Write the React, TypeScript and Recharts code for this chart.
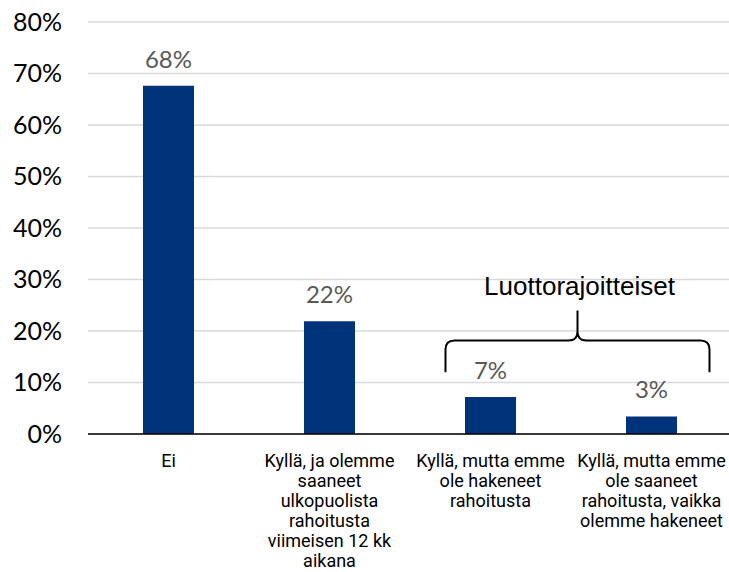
import React from "react";
import {
  BarChart,
  Bar,
  XAxis,
  YAxis,
  CartesianGrid,
  LabelList,
  ReferenceArea,
} from "recharts";

const categories = [
  "Ei",
  "Kyllä, ja olemme\nsaaneet\nulkopuolista\nrahoitusta\nviimeisen 12 kk\naikana",
  "Kyllä, mutta emme\nole hakeneet\nrahoitusta",
  "Kyllä, mutta emme\nole saaneet\nrahoitusta, vaikka\nolemme hakeneet",
];
const values = [67.6, 21.9, 7.2, 3.4];
const yTicks = [0, 10, 20, 30, 40, 50, 60, 70, 80];
const braceLabel = "Luottorajoitteiset";
const braceFrom = categories[2];
const braceTo = categories[3];
const braceLow = 12;
const braceHigh = 24;

const data = categories.map((c, i) => ({ name: c, value: values[i] }));

const XTick = (props: any) => {
  const { x, y, payload } = props;
  const lines = String(payload.value).split("\n");
  return (
    <g transform={`translate(${x},${y})`}>
      <text textAnchor="middle" fontFamily="Roboto" fontSize={18} fill="#000">
        {lines.map((l, i) => (
          <tspan key={i} x={0} dy={i === 0 ? 33 : 20}>
            {l}
          </tspan>
        ))}
      </text>
    </g>
  );
};

const ValueLabel = (props: any) => {
  const { x, y, width, value } = props;
  const cx = Number(x) + Number(width) / 2;
  return (
    <text
      x={cx}
      y={Number(y) - 18}
      textAnchor="middle"
      fontFamily="Lato"
      fontSize={24}
      fill="#595959"
    >
      {`${Math.round(Number(value))}%`}
    </text>
  );
};

const Brace = (props: any) => {
  const { x, y, width, height } = props;
  const band = width / 2;
  const left = x + band / 2 - 45;
  const right = x + band * 1.5 + 58;
  const mid = (left + right) / 2;
  const top = y;
  const bottom = y + height;
  const hy = y + 30;
  const r = 9;
  const d = `M${left},${bottom} L${left},${hy + r} Q${left},${hy} ${left + r},${hy} L${mid - r},${hy} Q${mid},${hy} ${mid},${hy - r} L${mid},${top} M${mid},${hy - r} Q${mid},${hy} ${mid + r},${hy} L${right - r},${hy} Q${right},${hy} ${right},${hy + r} L${right},${bottom}`;
  return (
    <g>
      <path d={d} fill="none" stroke="#000" strokeWidth={2} />
      <text
        x={mid + 2}
        y={top - 15}
        textAnchor="middle"
        fontFamily="Liberation Sans"
        fontSize={26}
        fill="#000"
      >
        {braceLabel}
      </text>
    </g>
  );
};

export default function App() {
  return (
    <div style={{ position: "absolute", left: 0, top: 0, background: "#fff" }}>
      <BarChart
        width={729}
        height={572}
        data={data}
        margin={{ top: 22, right: -3, bottom: 8, left: 0 }}
      >
        <CartesianGrid vertical={false} stroke="#d9d9d9" strokeWidth={1.5} />
        <XAxis
          dataKey="name"
          tick={<XTick />}
          tickLine={false}
          tickSize={0}
          tickMargin={0}
          interval={0}
          height={130}
          axisLine={{ stroke: "#000", strokeWidth: 1.5 }}
        />
        <YAxis
          domain={[0, 80]}
          ticks={yTicks}
          width={88}
          axisLine={false}
          tickLine={false}
          tickSize={0}
          tickMargin={26}
          tickFormatter={(v: number) => `${v}%`}
          tick={{ fontFamily: "Lato", fontSize: 25, fill: "#000" }}
        />
        <Bar
          dataKey="value"
          fill="#00337a"
          barSize={51}
          isAnimationActive={false}
        >
          <LabelList dataKey="value" content={<ValueLabel />} />
        </Bar>
        <ReferenceArea
          x1={braceFrom}
          x2={braceTo}
          y1={braceLow}
          y2={braceHigh}
          shape={<Brace />}
          ifOverflow="visible"
        />
      </BarChart>
    </div>
  );
}
